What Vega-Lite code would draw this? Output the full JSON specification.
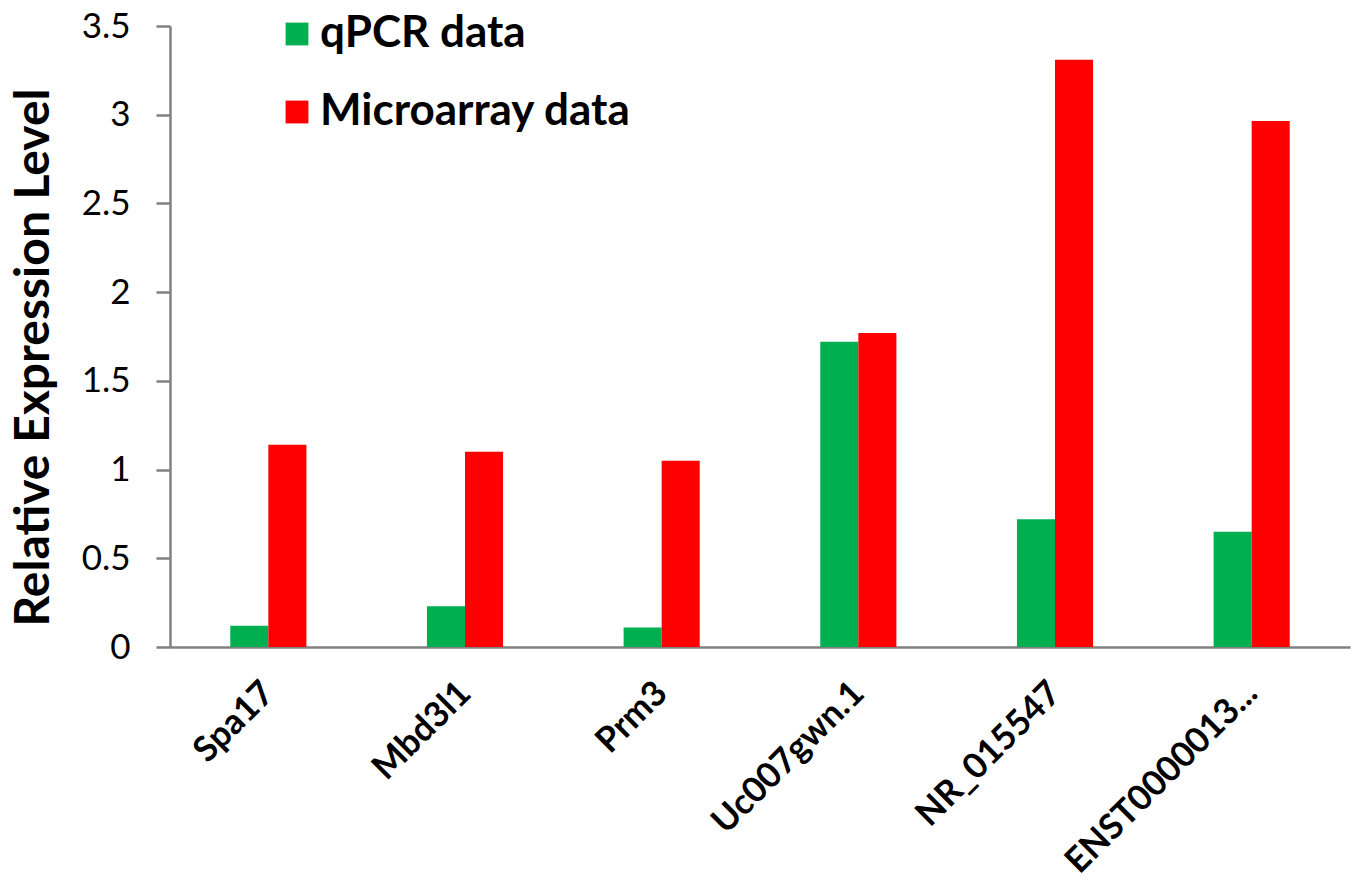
{
  "$schema": "https://vega.github.io/schema/vega-lite/v6.json",
  "autosize": {"type": "none"},
  "width": 1180,
  "height": 621,
  "padding": {"left": 170, "top": 26, "right": 1, "bottom": 233},
  "background": "white",
  "config": {
    "view": {"stroke": null},
    "font": "Lato"
  },
  "data": {
    "values": [
      {"gene": "Spa17", "series": "qPCR data", "value": 0.12},
      {"gene": "Spa17", "series": "Microarray data", "value": 1.14},
      {"gene": "Mbd3l1", "series": "qPCR data", "value": 0.23},
      {"gene": "Mbd3l1", "series": "Microarray data", "value": 1.10},
      {"gene": "Prm3", "series": "qPCR data", "value": 0.11},
      {"gene": "Prm3", "series": "Microarray data", "value": 1.05},
      {"gene": "Uc007gwn.1", "series": "qPCR data", "value": 1.72},
      {"gene": "Uc007gwn.1", "series": "Microarray data", "value": 1.77},
      {"gene": "NR_015547", "series": "qPCR data", "value": 0.72},
      {"gene": "NR_015547", "series": "Microarray data", "value": 3.31},
      {"gene": "ENST0000013...", "series": "qPCR data", "value": 0.65},
      {"gene": "ENST0000013...", "series": "Microarray data", "value": 2.965}
    ]
  },
  "mark": {"type": "bar"},
  "encoding": {
    "x": {
      "field": "gene",
      "type": "nominal",
      "sort": null,
      "scale": {"paddingInner": 0.613, "paddingOuter": 0.3065},
      "axis": {
        "title": null,
        "labelAngle": -45,
        "labelAlign": "right",
        "labelBaseline": "middle",
        "labelFont": "Lato",
        "labelFontWeight": "bold",
        "labelFontSize": 35,
        "labelColor": "#000000",
        "labelPadding": 40,
        "labelDx": 6,
        "ticks": false,
        "domainColor": "#808080",
        "domainWidth": 2.5,
        "labelLimit": 400
      }
    },
    "xOffset": {
      "field": "series",
      "type": "nominal",
      "sort": ["qPCR data", "Microarray data"]
    },
    "y": {
      "field": "value",
      "type": "quantitative",
      "scale": {"domain": [0, 3.5], "nice": false},
      "axis": {
        "title": "Relative Expression Level",
        "titleFont": "Lato",
        "titleFontWeight": "bold",
        "titleFontSize": 48,
        "titleColor": "#000000",
        "titleX": -136,
        "titleY": 331,
        "titleBaseline": "middle",
        "titleAlign": "center",
        "values": [0, 0.5, 1, 1.5, 2, 2.5, 3, 3.5],
        "format": ".1~f",
        "labelFont": "Lato",
        "labelFontSize": 35,
        "labelColor": "#000000",
        "labelPadding": 26,
        "tickSize": 14,
        "tickColor": "#808080",
        "tickWidth": 2.5,
        "domainColor": "#808080",
        "domainWidth": 2.5,
        "grid": false
      }
    },
    "color": {
      "field": "series",
      "type": "nominal",
      "sort": ["qPCR data", "Microarray data"],
      "scale": {"domain": ["qPCR data", "Microarray data"], "range": ["#00B050", "#FF0000"]},
      "legend": {
        "title": null,
        "orient": "none",
        "legendX": 105,
        "legendY": -14,
        "symbolType": "square",
        "symbolSize": 520,
        "symbolStrokeWidth": 0,
        "labelFont": "Lato",
        "labelFontWeight": "bold",
        "labelFontSize": 44,
        "labelColor": "#000000",
        "labelOffset": 1,
        "rowPadding": 34,
        "labelLimit": 600
      }
    }
  }
}
